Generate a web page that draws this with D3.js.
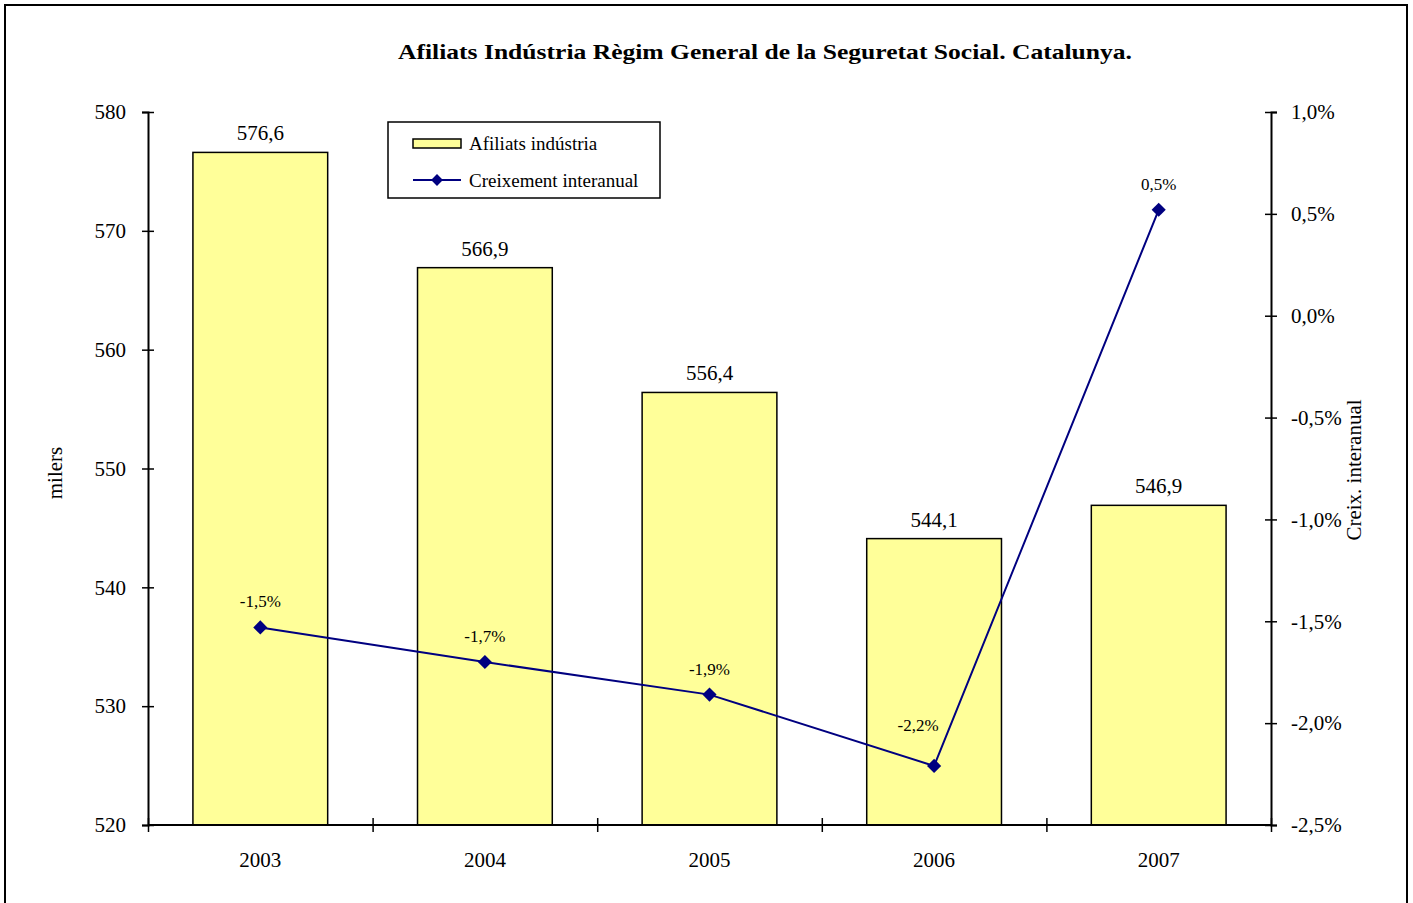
<!DOCTYPE html>
<html>
<head>
<meta charset="utf-8">
<script src="https://cdn.jsdelivr.net/npm/d3@7"></script>
<style>
  body { margin: 0; background: #fff; }
  svg { font-family: "Liberation Serif", "Times New Roman", serif; }
</style>
</head>
<body>
<svg id="chart" width="1413" height="903"></svg>
<script>
// dades
var anys = ["2003", "2004", "2005", "2006", "2007"];
var afiliats = [576.6, 566.9, 556.4, 544.1, 546.9];
var creixement = [-1.53, -1.70, -1.86, -2.21, 0.52];
var ticksEsq = [520, 530, 540, 550, 560, 570, 580];
var ticksDret = [-2.5, -2.0, -1.5, -1.0, -0.5, 0.0, 0.5, 1.0];

var svg = d3.select("#chart");
var mLeft = 148, mRight = 1271, mTop = 112, mBottom = 825;

// marc exterior
svg.append("rect")
  .attr("x", 5).attr("y", 5)
  .attr("width", 1402).attr("height", 910)
  .attr("fill", "none").attr("stroke", "#000").attr("stroke-width", 2);

var fmt = function(v, dec) { return v.toFixed(dec).replace(".", ","); };

var x = d3.scaleBand().domain(anys).range([mLeft, mRight]).paddingInner(0.4).paddingOuter(0.2);
var xTicks = d3.scaleLinear().domain([0, anys.length]).range([mLeft, mRight]);
var yL = d3.scaleLinear().domain([520, 580]).range([mBottom, mTop]);
var yR = d3.scaleLinear().domain([-2.5, 1.0]).range([mBottom, mTop]);

// titol
svg.append("text")
  .attr("x", 398).attr("y", 59)
  .attr("textLength", 734).attr("lengthAdjust", "spacingAndGlyphs")
  .style("font-size", "22px").style("font-weight", "bold")
  .text("Afiliats Indústria  Règim  General de la Seguretat  Social. Catalunya.");

// barres
svg.append("g").selectAll("rect")
  .data(afiliats).enter().append("rect")
  .attr("x", function(d, i) { return x(anys[i]); })
  .attr("y", function(d) { return yL(d); })
  .attr("width", x.bandwidth())
  .attr("height", function(d) { return yL(520) - yL(d); })
  .attr("fill", "#FFFF99").attr("stroke", "#000").attr("stroke-width", 1.5);

svg.append("g").selectAll("text")
  .data(afiliats).enter().append("text")
  .attr("x", function(d, i) { return x(anys[i]) + x.bandwidth() / 2; })
  .attr("y", function(d) { return yL(d) - 12; })
  .attr("text-anchor", "middle")
  .style("font-size", "21px")
  .text(function(d) { return fmt(d, 1); });

// eixos
var axL = svg.append("g")
  .attr("transform", "translate(" + mLeft + ",0)")
  .call(d3.axisLeft(yL).tickValues(ticksEsq).tickSize(6).tickPadding(16).tickFormat(function(d) { return d; }));
axL.selectAll(".tick line").attr("x2", -6).attr("x1", 6);

var axR = svg.append("g")
  .attr("transform", "translate(" + mRight + ",0)")
  .call(d3.axisRight(yR).tickValues(ticksDret).tickSize(6).tickPadding(14).tickFormat(function(d) { return fmt(d, 1) + "%"; }));
axR.selectAll(".tick line").attr("x1", -6).attr("x2", 6);

var axB = svg.append("g")
  .attr("transform", "translate(0," + mBottom + ")")
  .call(d3.axisBottom(xTicks).tickValues(d3.range(anys.length + 1)).tickSize(7).tickFormat(""));
axB.selectAll(".tick line").attr("y1", -7).attr("y2", 7);

[axL, axR, axB].forEach(function(a) {
  a.select(".domain").attr("stroke", "#000").attr("stroke-width", 2);
  a.selectAll(".tick line").attr("stroke", "#000").attr("stroke-width", 1.5);
  a.selectAll("text").style("font-family", "Liberation Serif, serif").style("font-size", "21px").attr("fill", "#000");
});
axB.select(".domain").attr("d", "M" + mLeft + ",0H" + mRight);

svg.append("g").selectAll("text")
  .data(anys).enter().append("text")
  .attr("x", function(d) { return x(d) + x.bandwidth() / 2; })
  .attr("y", 867)
  .attr("text-anchor", "middle")
  .style("font-size", "21px")
  .text(function(d) { return d; });

// titols eixos
svg.append("text")
  .attr("transform", "translate(62,473)rotate(-90)")
  .attr("text-anchor", "middle")
  .style("font-size", "21px")
  .text("milers");
svg.append("text")
  .attr("transform", "translate(1361,470)rotate(-90)")
  .attr("text-anchor", "middle")
  .style("font-size", "21px")
  .text("Creix. interanual");

// linia
var line = d3.line()
  .x(function(d, i) { return x(anys[i]) + x.bandwidth() / 2; })
  .y(function(d) { return yR(d); });

svg.append("path")
  .datum(creixement)
  .attr("d", line)
  .attr("fill", "none").attr("stroke", "#000080").attr("stroke-width", 2);

var diamant = d3.symbol().type(d3.symbolSquare).size(100);
svg.append("g").selectAll("path")
  .data(creixement).enter().append("path")
  .attr("d", diamant)
  .attr("transform", function(d, i) { return "translate(" + (x(anys[i]) + x.bandwidth() / 2) + "," + yR(d) + ")rotate(45)"; })
  .attr("fill", "#000080");

// l'etiqueta de 2006 queda desplaçada per no tocar la línia
svg.append("g").selectAll("text")
  .data(creixement).enter().append("text")
  .attr("x", function(d, i) { return x(anys[i]) + x.bandwidth() / 2 - (i == 3 ? 16 : 0); })
  .attr("y", function(d, i) { return yR(d) - (i == 3 ? 35 : 20); })
  .attr("text-anchor", "middle")
  .style("font-size", "17px")
  .text(function(d) { return fmt(d, 1) + "%"; });

// llegenda
var lg = svg.append("g").attr("transform", "translate(388,122)");
lg.append("rect").attr("width", 272).attr("height", 76)
  .attr("fill", "#fff").attr("stroke", "#000").attr("stroke-width", 1.5);
lg.append("rect").attr("x", 25).attr("y", 17).attr("width", 48).attr("height", 9)
  .attr("fill", "#FFFF99").attr("stroke", "#000").attr("stroke-width", 1.5);
lg.append("text").attr("x", 81).attr("y", 28).style("font-size", "19px").text("Afiliats indústria");
lg.append("line").attr("x1", 25).attr("x2", 73).attr("y1", 58).attr("y2", 58)
  .attr("stroke", "#000080").attr("stroke-width", 2);
lg.append("path").attr("d", d3.symbol().type(d3.symbolSquare).size(70))
  .attr("transform", "translate(49,58)rotate(45)").attr("fill", "#000080");
lg.append("text").attr("x", 81).attr("y", 65).style("font-size", "19px").text("Creixement interanual");
</script>
</body>
</html>
